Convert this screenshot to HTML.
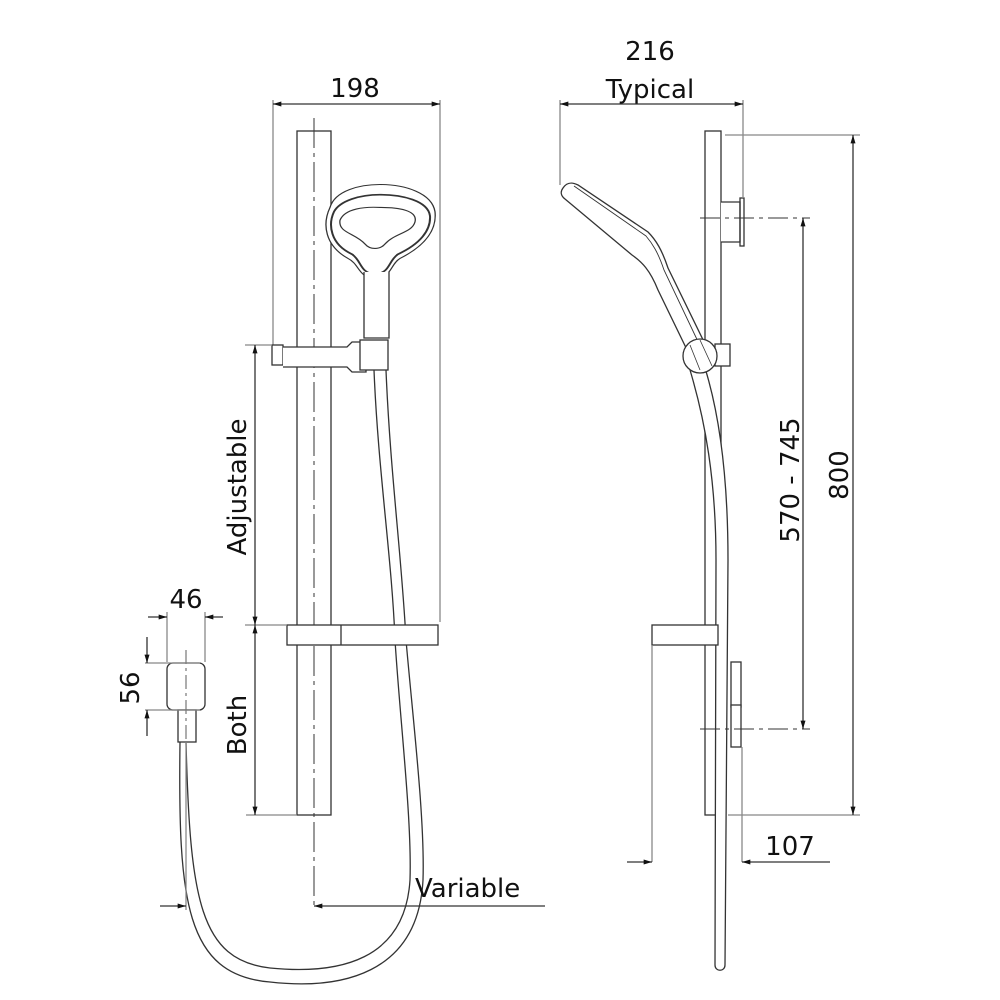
<!DOCTYPE html>
<html><head><meta charset="utf-8"><style>
html,body{margin:0;padding:0;background:#fff}
svg{display:block}
text{font-family:"DejaVu Sans","Liberation Sans",sans-serif;fill:#111}
</style></head><body>
<svg width="1000" height="1000" viewBox="0 0 1000 1000" xmlns="http://www.w3.org/2000/svg">
<defs>
<marker id="a" viewBox="0 0 10 6" refX="10" refY="3" markerWidth="14" markerHeight="5" orient="auto-start-reverse" markerUnits="userSpaceOnUse"><path d="M0,0L10,3L0,6z" fill="#111"/></marker>
</defs>
<g fill="none" stroke="#333" stroke-width="1.3">
<!-- LEFT VIEW -->
<rect x="297" y="131" width="34" height="684" fill="#fff"/>
<line x1="314" y1="118" x2="314" y2="905" stroke-dasharray="30,5,4,5" stroke-width="1"/>
<!-- 198 dim -->
<line x1="273" y1="100" x2="273" y2="345" stroke="#888"/>
<line x1="440" y1="100" x2="440" y2="622" stroke="#888"/>
<line x1="273" y1="104" x2="440" y2="104" marker-start="url(#a)" marker-end="url(#a)"/>
<!-- head -->
<g transform="translate(0,41.7) scale(1,0.85)">
<path d="M330,195 C335,175 360,168 380,168 C405,168 432,178 435,200 C437,222 425,240 400,255 C390,262 392,278 375,278 C358,278 360,262 348,255 C325,240 322,215 330,195Z" fill="#fff"/>
<path d="M334,200 C340,187 360,180 380,180 C402,180 428,187 430,205 C431,222 420,238 398,250 C388,258 390,273 375,273 C360,273 362,258 352,250 C330,238 328,215 334,200Z" stroke-width="2"/>
<path d="M340,210 C345,196 365,194 380,195 C398,195 418,198 415,212 C412,225 395,225 385,238 C380,245 370,245 365,238 C355,225 338,225 340,210Z"/>
</g>
<!-- handle -->
<path d="M364,272 L364,338 L389,338 L389,272" fill="#fff"/>
<!-- bracket -->
<rect x="272" y="345" width="11" height="20" fill="#fff"/>
<path d="M283,347 L347,347 L352,342 L366,342 L366,372 L352,372 L347,367 L283,367" fill="#fff"/>
<rect x="360" y="340" width="28" height="30" fill="#fff"/>
<!-- hose main -->
<path d="M374,370 C378,470 392,560 395,640 C400,720 412,820 410,880 C405,960 340,975 270,968 C200,960 190,900 186,742"/>
<path d="M386,370 C390,470 402,560 406,640 C413,720 425,820 423,880 C418,975 340,990 270,982 C185,975 178,900 180,742" />
<!-- soap dish -->
<rect x="287" y="625" width="151" height="20" fill="#fff"/>
<line x1="341" y1="625" x2="341" y2="645"/>
<!-- outlet -->
<rect x="167" y="663" width="38" height="47" rx="6" fill="#fff"/>
<rect x="178" y="710" width="18" height="32" fill="#fff"/>
<line x1="186" y1="650" x2="186" y2="740" stroke-dasharray="14,4,3,4" stroke-width="0.8"/>
<!-- dims left -->
<line x1="245" y1="345" x2="272" y2="345" stroke="#888"/>
<line x1="245" y1="625" x2="287" y2="625" stroke="#888"/>
<line x1="246" y1="815" x2="296" y2="815" stroke="#888"/>
<line x1="255" y1="345" x2="255" y2="625" marker-start="url(#a)" marker-end="url(#a)"/>
<line x1="255" y1="625" x2="255" y2="815" marker-start="url(#a)" marker-end="url(#a)"/>
<line x1="167" y1="612" x2="167" y2="662" stroke="#888"/>
<line x1="205" y1="612" x2="205" y2="662" stroke="#888"/>
<line x1="148" y1="617" x2="167" y2="617" marker-end="url(#a)"/>
<line x1="223" y1="617" x2="205" y2="617" marker-end="url(#a)"/>
<line x1="145" y1="663" x2="200" y2="663" stroke="#888"/>
<line x1="145" y1="710" x2="200" y2="710" stroke="#888"/>
<line x1="147" y1="637" x2="147" y2="663" marker-end="url(#a)"/>
<line x1="147" y1="736" x2="147" y2="710" marker-end="url(#a)"/>
<line x1="186" y1="742" x2="186" y2="910" stroke="#888"/>
<line x1="160" y1="906" x2="186" y2="906" marker-end="url(#a)"/>
<line x1="545" y1="906" x2="314" y2="906" marker-end="url(#a)"/>

<!-- RIGHT VIEW -->
<rect x="705" y="131" width="16" height="684" fill="#fff"/>
<path d="M721,202 L740,202 L740,242 L721,242" fill="#fff"/>
<rect x="740" y="198" width="4" height="48"/>
<line x1="700" y1="218" x2="810" y2="218" stroke-dasharray="20,5,4,5" stroke-width="1"/>
<rect x="715" y="344" width="15" height="22" fill="#fff"/>
<path d="M563,188 C567,182 572,182 578,185 L648,232 C656,240 662,250 668,268 L707,348 L690,356 L658,290 C650,270 642,262 632,255 L565,199 C561,196 560,192 563,188Z" fill="#fff"/>
<path d="M574,186 L646,236 C652,243 658,252 664,270 L702,350" stroke-width="0.9"/>
<path d="M690,370 C705,420 716,480 716,560 L715,965 C715,972 725,972 725,965 L728,560 C728,470 718,410 705,368" fill="#fff"/>
<circle cx="700" cy="356" r="17" fill="#fff"/>
<line x1="690" y1="345" x2="700" y2="370" stroke-width="0.8"/>
<line x1="700" y1="340" x2="712" y2="366" stroke-width="0.8"/>
<rect x="652" y="625" width="66" height="20" fill="#fff"/>
<rect x="731" y="662" width="10" height="45" fill="#fff"/>
<rect x="731" y="705" width="10" height="42" fill="#fff"/>
<line x1="700" y1="729" x2="810" y2="729" stroke-dasharray="20,5,4,5" stroke-width="1"/>
<line x1="560" y1="100" x2="560" y2="185" stroke="#888"/>
<line x1="743" y1="100" x2="743" y2="198" stroke="#888"/>
<line x1="560" y1="104" x2="743" y2="104" marker-start="url(#a)" marker-end="url(#a)"/>
<line x1="725" y1="135" x2="860" y2="135" stroke="#888"/>
<line x1="728" y1="815" x2="860" y2="815" stroke="#888"/>
<line x1="853" y1="135" x2="853" y2="815" marker-start="url(#a)" marker-end="url(#a)"/>
<line x1="803" y1="218" x2="803" y2="729" marker-start="url(#a)" marker-end="url(#a)"/>
<line x1="652" y1="645" x2="652" y2="862" stroke="#888"/>
<line x1="742" y1="747" x2="742" y2="862" stroke="#888"/>
<line x1="627" y1="862" x2="652" y2="862" marker-end="url(#a)"/>
<line x1="830" y1="862" x2="742" y2="862" marker-end="url(#a)"/>
</g>
<g font-size="26">
<text x="355" y="97" text-anchor="middle">198</text>
<text x="650" y="60" text-anchor="middle">216</text>
<text x="650" y="98" text-anchor="middle">Typical</text>
<text x="790" y="855" text-anchor="middle">107</text>
<text x="415" y="897">Variable</text>
<text x="186" y="608" text-anchor="middle">46</text>
<text transform="translate(139,688) rotate(-90)" text-anchor="middle">56</text>
<text transform="translate(246,487) rotate(-90)" text-anchor="middle">Adjustable</text>
<text transform="translate(246,725) rotate(-90)" text-anchor="middle">Both</text>
<text transform="translate(799,480) rotate(-90)" text-anchor="middle">570 - 745</text>
<text transform="translate(848,475) rotate(-90)" text-anchor="middle">800</text>
</g>
</svg>
</body></html>
